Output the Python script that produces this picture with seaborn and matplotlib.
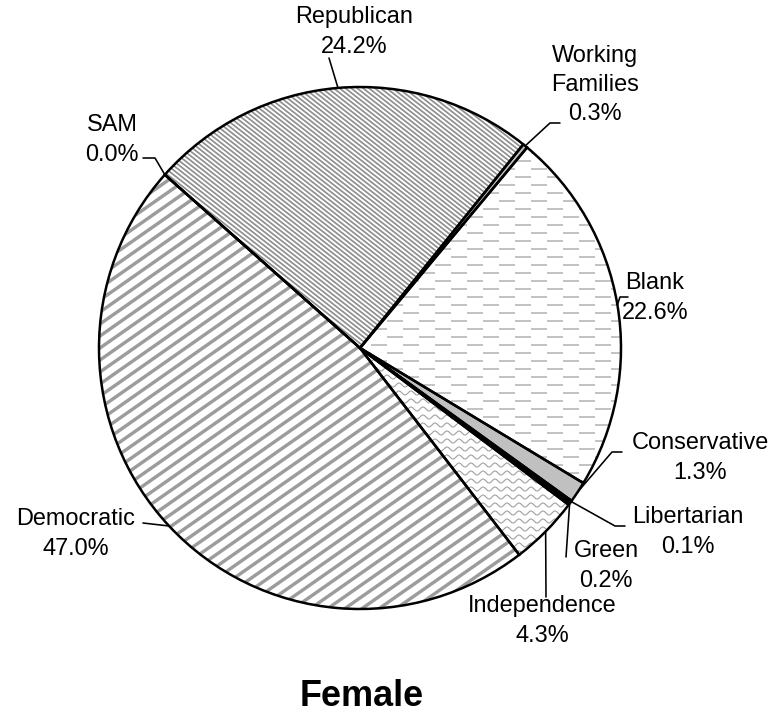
import numpy as np
import matplotlib
matplotlib.use("Agg")
import matplotlib.pyplot as plt
from matplotlib.collections import LineCollection
import seaborn as sns

# party shares of female voters, clockwise from the top-left boundary
parties = ["SAM", "Republican", "Working Families", "Blank", "Conservative",
           "Libertarian", "Green", "Independence", "Democratic"]
shares = [0.0, 24.2, 0.3, 22.6, 1.3, 0.1, 0.2, 4.3, 47.0]
title = "Female"

sns.set_theme(style="white")
plt.rcParams["font.family"] = ["Liberation Sans", "DejaVu Sans"]

DPI = 72
W, H = 779, 723
CX, CY, R = 360, 348, 261  # pie centre / radius in pixels


def px(x, y):
    # pixel position -> pie data coords
    return (x - CX) / R, (CY - y) / R


fills = {"Working Families": "#c0c0c0", "Conservative": "#c0c0c0",
         "Libertarian": "black", "Green": "black"}
# diagonal stripes: angle, vertical spacing (px), colour, width
stripe_style = {"Republican": (-38, 4.6, "#8e8e8e", 1.7),
                "Democratic": (35, 12, "#9c9c9c", 3.4)}

# label centre and leader elbow points (pixels)
label_pos = {
    "SAM": ((112, 140), [(143, 158), (155, 158)]),
    "Republican": ((354, 32), [(329, 58)]),
    "Working Families": ((595, 85), [(560, 123), (550, 123)]),
    "Blank": ((655, 298), [(628, 297), (620, 297)]),
    "Conservative": ((700, 458), [(622, 452), (612, 452)]),
    "Libertarian": ((688, 532), [(625, 526), (615, 526)]),
    "Green": ((606, 566), [(566, 557)]),
    "Independence": ((542, 621), [(546, 597)]),
    "Democratic": ((76, 534), [(143, 523)]),
}

fig = plt.figure(figsize=(W / DPI, H / DPI), dpi=DPI)
ax = fig.add_axes([(CX - R) / W, (H - CY - R) / H, 2 * R / W, 2 * R / H])

start = 138.4
wedges, _ = ax.pie(shares, startangle=start, counterclock=False, radius=1,
                   wedgeprops=dict(linewidth=0))
for w, p in zip(wedges, parties):
    w.set_facecolor(fills.get(p, "white"))
wd = dict(zip(parties, wedges))


def stripes(wedge, angle, vspace, color, lw):
    a = np.deg2rad(angle)
    d = np.array([np.cos(a), np.sin(a)])
    n = np.array([-np.sin(a), np.cos(a)])
    s = vspace * np.cos(a) / R
    segs = [[k * n - 1.6 * d, k * n + 1.6 * d] for k in np.arange(-1.5, 1.5, s)]
    lc = LineCollection(segs, colors=color, linewidths=lw, zorder=2)
    ax.add_collection(lc)
    lc.set_clip_path(wedge)


for p, (ang, sp, c, lw) in stripe_style.items():
    stripes(wd[p], ang, sp, c, lw)

# Blank: rows of short grey dashes, offset every other row
step = 8 / R
for i, y in enumerate(np.arange(-1, 1, step)):
    ln, = ax.plot([-1, 1], [y, y], color="#c4c4c4", lw=2, zorder=2,
                  linestyle=((8 if i % 2 else 0), (8, 8)))
    ln.set_clip_path(wd["Blank"])

# Independence: wavy lines
xs = np.linspace(-1, 1, 1500)
for y in np.arange(-1, 1, step):
    ln, = ax.plot(xs, y + (2 / R) * np.sin(2 * np.pi * xs / (12 / R)),
                  color="#a0a0a0", lw=1.1, zorder=2)
    ln.set_clip_path(wd["Independence"])

# outlines on top
ax.pie(shares, startangle=start, counterclock=False, radius=1,
       wedgeprops=dict(fill=False, edgecolor="black", linewidth=2.5, zorder=4))
ax.set_xlim(-1, 1)
ax.set_ylim(-1, 1)
ax.set_aspect("equal")
ax.axis("off")

for w, p, v in zip(wedges, parties, shares):
    mid = np.deg2rad((w.theta1 + w.theta2) / 2)
    rim = (np.cos(mid), np.sin(mid))
    (tx, ty), elbow = label_pos[p]
    pts = [px(*e) for e in elbow] + [rim]
    ax.plot([q[0] for q in pts], [q[1] for q in pts], color="black", lw=1.6,
            clip_on=False, zorder=5)
    name = p.replace(" ", "\n")
    ax.text(*px(tx, ty), f"{name}\n{v:.1f}%", ha="center", va="center",
            fontsize=23.5, linespacing=1.42, color="black")

fig.text(362 / W, 1 - 697 / H, title, ha="center", va="center",
         fontsize=36, fontweight="bold", color="black")

fig.savefig("out.png", dpi=DPI)
